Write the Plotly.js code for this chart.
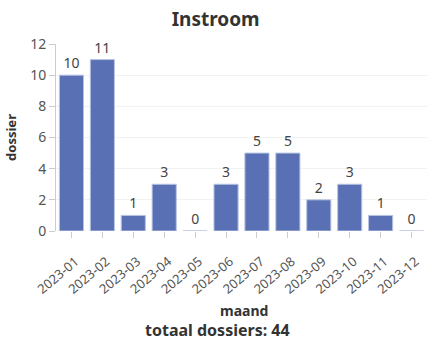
<!DOCTYPE html>
<html>
<head>
<meta charset="utf-8">
<script src="https://cdn.plot.ly/plotly-3.0.1.min.js"></script>
<style>html,body{margin:0;padding:0;background:#fff;}#chart{width:427px;height:340px;}</style>
</head>
<body>
<div id="chart"></div>
<script>
const months = ["2023-01","2023-02","2023-03","2023-04","2023-05","2023-06","2023-07","2023-08","2023-09","2023-10","2023-11","2023-12"];
const counts = [10, 11, 1, 3, 0, 3, 5, 5, 2, 3, 1, 0];
const chartTitle = "Instroom";
const xTitle = "maand";
const yTitle = "dossier";
const totalLabel = "totaal dossiers: " + counts.reduce((a, b) => a + b, 0);

const font = "'Noto Sans', 'Open Sans', sans-serif";

const trace = {
  type: "bar",
  x: months,
  y: counts,
  text: counts.map(String),
  textposition: "outside",
  cliponaxis: false,
  textfont: {family: font, size: 14, color: "#444"},
  marker: {color: "#5a70b4", line: {color: "#b7c3e3", width: 1}},
  hoverinfo: "x+y"
};

const layout = {
  width: 427, height: 340,
  margin: {l: 56, r: 0, t: 44, b: 109},
  paper_bgcolor: "#fff", plot_bgcolor: "#fff",
  bargap: 0.22,
  showlegend: false,
  title: {text: "<b>" + chartTitle + "</b>", font: {family: font, size: 19, color: "#333"}, x: 0.505, xanchor: "center", xref: "container", y: 0.942, yanchor: "middle", yref: "container"},
  xaxis: {
    type: "category",
    tickangle: -40,
    ticks: "outside", ticklen: 6, tickcolor: "#ccc",
    ticklabelstandoff: 11,
    ticklabelshift: 4,
    tickfont: {family: font, size: 13, color: "#555"},
    showgrid: false, showline: false, zeroline: false
  },
  yaxis: {
    range: [0, 12], dtick: 2,
    ticks: "outside", ticklen: 6, tickcolor: "#ccc",
    tickfont: {family: font, size: 14, color: "#555"},
    showgrid: true, gridcolor: "#f2f2f2",
    showline: true, linecolor: "#ccc", zeroline: false,
    title: {text: "<b>" + yTitle + "</b>", font: {family: font, size: 13, color: "#333"}, standoff: 10}
  },
  annotations: [
    {
      text: "<b>" + xTitle + "</b>",
      xref: "paper", yref: "paper", x: 0.507, y: -0.425, xanchor: "center", yanchor: "middle",
      showarrow: false, font: {family: font, size: 14, color: "#333"}
    },
    {
      text: "<b>" + totalLabel + "</b>",
      xref: "paper", yref: "paper", x: 0.434, y: -0.532, xanchor: "center", yanchor: "middle",
      showarrow: false, font: {family: font, size: 16, color: "#333"}
    }
  ]
};

Plotly.newPlot("chart", [trace], layout, {staticPlot: true, displayModeBar: false});
</script>
</body>
</html>
